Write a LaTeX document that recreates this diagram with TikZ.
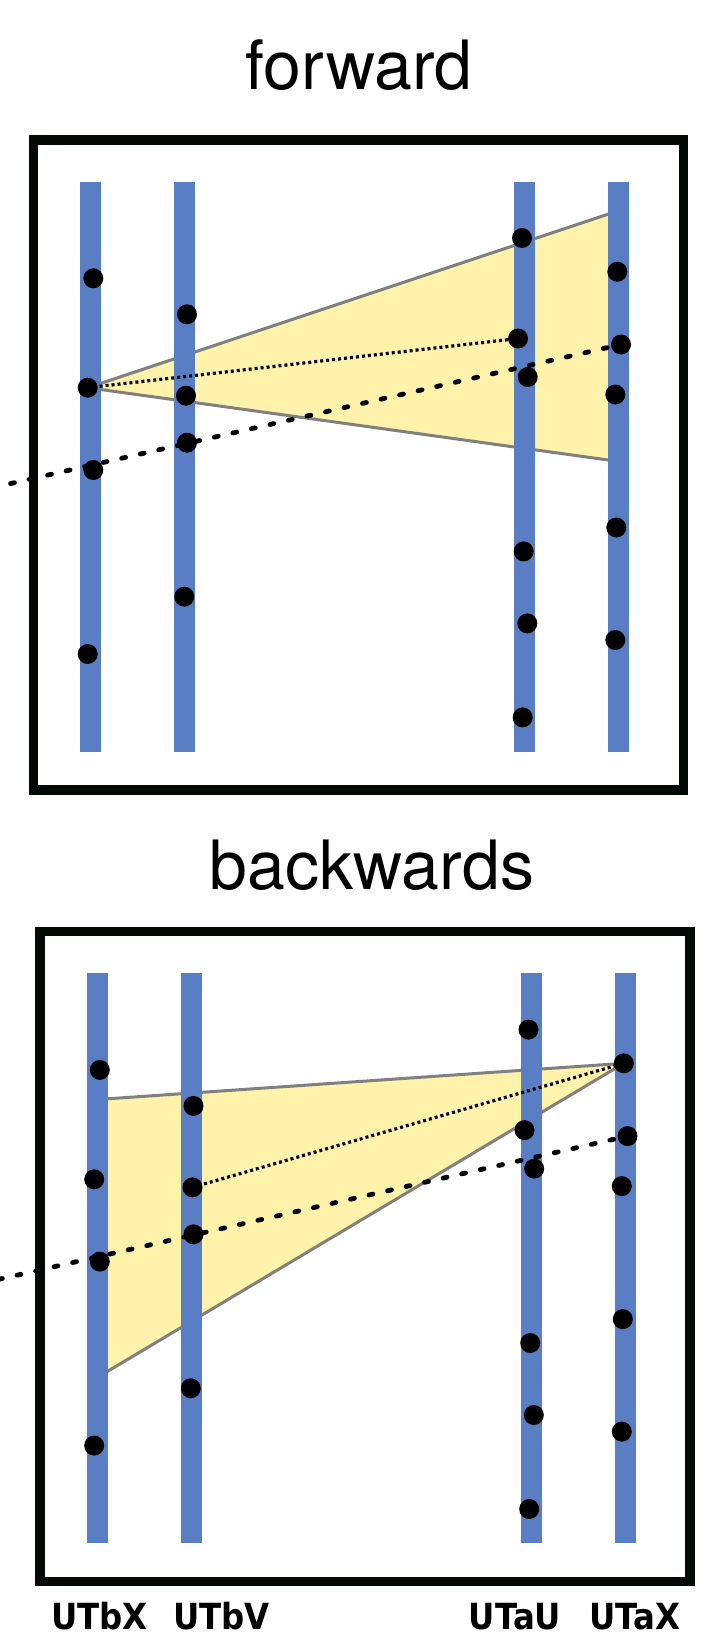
\documentclass[tikz,border=0pt]{standalone}
\usepackage{fontspec}
\setmainfont{TeX Gyre Heros}
\newfontfamily\tagfont[FakeStretch=0.9]{DejaVu Sans}

\definecolor{railblue}{RGB}{89,126,196}
\definecolor{fanyellow}{RGB}{255,242,170}
\definecolor{fangrey}{RGB}{128,128,128}
\definecolor{framedark}{RGB}{3,10,6}

\pgfdeclarelayer{fanlayer}
\pgfdeclarelayer{raillayer}
\pgfdeclarelayer{linklayer}
\pgfsetlayers{fanlayer,raillayer,linklayer,main}

\tikzset{
	bead/.style={circle, fill=black, inner sep=0pt, minimum size=20pt},
	rail/.style={railblue, line width=21pt},
	fan/.style={fill=fanyellow, draw=fangrey, line width=3pt, line join=round},
	linkdot/.style={black, line width=3.2pt, dash pattern=on 3pt off 3pt},
	linkdash/.style={black, line width=4.8pt, line cap=round, dash pattern=on 4pt off 15pt},
	panelframe/.style={framedark, line width=9.5pt},
	heading/.style={anchor=base, inner sep=0pt, font=\fontsize{68}{80}\selectfont},
	railtag/.style={anchor=base, inner sep=0pt, font=\tagfont\bfseries\fontsize{36}{40}\selectfont}
}

% one panel: frame, the four rails and the beads on them
\newcommand{\panel}[1]{
	\draw[panelframe] (33.7,140) rectangle (683.7,790);
	\begin{pgfonlayer}{raillayer}
		\foreach \x in {90.8,184.8,524.8,618.8}
			\draw[rail] (\x,181.7) -- (\x,751.7);
	\end{pgfonlayer}
	\foreach \n/\x/\y in {a1/93.3/278.3, a2/87.7/387.7, a3/93.3/470, a4/87.7/654,
		b1/187/314.3, b2/186/395.7, b3/187/442.7, b4/184.3/596.7,
		c1/522/238, c2/518/338.5, c3/527.7/377, c4/523.7/551.4, c5/527.3/623.4, c6/522.7/717.4,
		d1/617.3/271.7, d2/621/344.5, d3/615.3/394.5, d4/616.3/527.5, d5/615.3/640}
		\node[bead] (#1\n) at (\x,\y) {};
	\coordinate (#1in) at (-8,487.8);
	\begin{pgfonlayer}{linklayer}
		\draw[linkdash] (#1in) -- (#1d2.center);
	\end{pgfonlayer}
}

\begin{document}
\begin{tikzpicture}[x=1pt, y=-1pt]
	\useasboundingbox (0,0) rectangle (727,1637);
	% forward
	\node[heading] (fwd) at (359,90) {forward};
	\panel{f}
	\coordinate (ftop) at (618.8,210.6);
	\coordinate (fbot) at (618.8,461.5);
	\begin{pgfonlayer}{fanlayer}
		\draw[fan] (fa2.center) -- (ftop) -- (fbot) -- cycle;
	\end{pgfonlayer}
	\begin{pgfonlayer}{linklayer}
		\draw[linkdot] (fa2.center) -- (fc2.center);
	\end{pgfonlayer}
	% backwards
	\node[heading] (bwd) at (372,889) {backwards};
	\begin{scope}[shift={(6.5,791.6)}]
		\panel{b}
		\coordinate (btop) at (90.8,307.9);
		\coordinate (bbot) at (90.8,585.9);
		\begin{pgfonlayer}{fanlayer}
			\draw[fan] (bd1.center) -- (btop) -- (bbot) -- cycle;
		\end{pgfonlayer}
		\begin{pgfonlayer}{linklayer}
			\draw[linkdot] (bb2.center) -- (bd1.center);
		\end{pgfonlayer}
	\end{scope}
	% rail names
	\node[railtag] (tbx) at (99.4,1629) {UTbX};
	\node[railtag] (tbv) at (221.7,1629) {UTbV};
	\node[railtag] (tau) at (515,1629) {UTaU};
	\node[railtag] (tax) at (635,1629) {UTaX};
\end{tikzpicture}
\end{document}
